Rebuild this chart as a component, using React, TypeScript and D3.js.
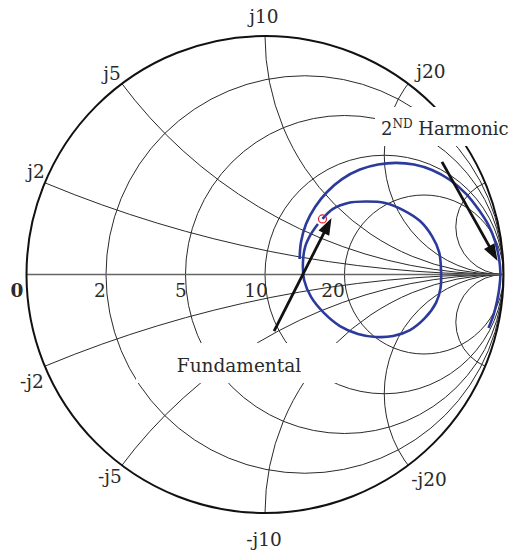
import React from "react";
import * as d3 from "d3";

// Smith chart grid (normalised to Z0 = 10 ohm)
const resistanceValues = [0.2, 0.5, 1, 2];
const reactanceValues = [0.2, 0.5, 1, 2, 5];
const resistanceTickValues = [0, 0.2, 0.5, 1, 2];
const resistanceTickLabels = ["0", "2", "5", "10", "20"];
const reactanceTickLabels = ["j2", "j5", "j10", "j20"];
const negReactanceTickLabels = ["-j2", "-j5", "-j10", "-j20"];

// Fundamental load-pull locus (reflection coefficient, re / im)
const fundamentalRe = [0.241, 0.285, 0.348, 0.423, 0.503, 0.579, 0.65, 0.7, 0.73, 0.738, 0.736, 0.717, 0.671, 0.608, 0.537, 0.465, 0.39, 0.314, 0.247, 0.193, 0.164, 0.159, 0.168, 0.193, 0.222];
const fundamentalIm = [0.233, 0.275, 0.3, 0.306, 0.3, 0.27, 0.224, 0.161, 0.094, 0.019, -0.057, -0.119, -0.182, -0.233, -0.258, -0.262, -0.249, -0.216, -0.161, -0.094, -0.023, 0.048, 0.115, 0.17, 0.212];

// 2nd harmonic locus
const harmonicRe = [0.145, 0.151, 0.172, 0.21, 0.26, 0.323, 0.398, 0.474, 0.549, 0.625, 0.7, 0.776, 0.843, 0.897, 0.939, 0.966, 0.981, 0.987, 0.983, 0.973, 0.958, 0.937];
const harmonicIm = [0.065, 0.136, 0.212, 0.283, 0.346, 0.4, 0.44, 0.461, 0.468, 0.461, 0.438, 0.396, 0.338, 0.27, 0.203, 0.136, 0.069, 0.006, -0.052, -0.111, -0.17, -0.224];

// Annotation arrows [start, end] in reflection coefficient
const fundamentalArrow = [[0.038, -0.237], [0.279, 0.237]];
const harmonicArrow = [[0.742, 0.472], [0.975, 0.057]];

const W = 512;
const H = 552;
const CX = 265;
const CY = 274.5;
const RAD = 238.5;
const FONT = "'DejaVu Serif', 'Liberation Serif', serif";

// text layout (centre x, baseline y)
const reactanceLabelPos = [[36, 178], [112, 80], [264, 23], [431, 78]];
const negReactanceLabelPos = [[32, 388], [110, 483], [264, 546], [429, 486]];
const resistanceLabelPos = [[17, 297], [100, 297], [181, 297], [256, 297], [333, 297]];

export default function App() {
  const sx = d3.scaleLinear().domain([-1, 1]).range([CX - RAD, CX + RAD]);
  const sy = d3.scaleLinear().domain([-1, 1]).range([CY + RAD, CY - RAD]);
  const pr = (v: number) => sx(v) - sx(0);

  const line = d3
    .line<number[]>()
    .x((d) => sx(d[0]))
    .y((d) => sy(d[1]))
    .curve(d3.curveCatmullRom.alpha(0.5));

  const fund = fundamentalRe.map((r, i) => [r, fundamentalIm[i]]);
  const harm = harmonicRe.map((r, i) => [r, harmonicIm[i]]);

  const arrow = (a: number[][], key: string) => {
    const x1 = sx(a[0][0]), y1 = sy(a[0][1]);
    const x2 = sx(a[1][0]), y2 = sy(a[1][1]);
    const dx = x2 - x1, dy = y2 - y1;
    const len = Math.hypot(dx, dy);
    const ux = dx / len, uy = dy / len;
    const hl = 17, hw = 6;
    const bx = x2 - ux * hl, by = y2 - uy * hl;
    const pts = [
      [x2, y2],
      [bx - uy * hw, by + ux * hw],
      [bx + uy * hw, by - ux * hw],
    ];
    return (
      <g key={key}>
        <line x1={x1} y1={y1} x2={bx + ux * 2} y2={by + uy * 2} stroke="#111" strokeWidth={2.8} />
        <polygon points={pts.map((p) => p.join(",")).join(" ")} fill="#111" />
      </g>
    );
  };

  return (
    <svg
      width={W}
      height={H}
      viewBox={`0 0 ${W} ${H}`}
      style={{ position: "absolute", left: 0, top: 0, background: "#fff" }}
    >
      <defs>
        <clipPath id="unit">
          <circle cx={sx(0)} cy={sy(0)} r={pr(1)} />
        </clipPath>
      </defs>
      <rect x={0} y={0} width={W} height={H} fill="#fff" />
      <g clipPath="url(#unit)" fill="none" stroke="#2a2a2a" strokeWidth={1}>
        {resistanceValues.map((r) => (
          <circle key={"r" + r} cx={sx(r / (1 + r))} cy={sy(0)} r={pr(1 / (1 + r))} />
        ))}
        {reactanceValues.map((x) => (
          <g key={"x" + x}>
            <circle cx={sx(1)} cy={sy(1 / x)} r={pr(1 / x)} />
            <circle cx={sx(1)} cy={sy(-1 / x)} r={pr(1 / x)} />
          </g>
        ))}
      </g>
      <line x1={sx(-1)} y1={sy(0)} x2={sx(1)} y2={sy(0)} stroke="#666" strokeWidth={1.4} />
      <circle cx={sx(0)} cy={sy(0)} r={pr(1)} fill="none" stroke="#111" strokeWidth={2} />

      {/* white label backgrounds */}
      <rect x={136} y={343} width={206} height={40} fill="#fff" />
      <rect x={375} y={107} width={137} height={39} fill="#fff" />

      <g fontFamily={FONT} fontSize={18.5} fill="#2a2a2a" textAnchor="middle">
        {reactanceTickLabels.map((t, i) => (
          <text key={t} x={reactanceLabelPos[i][0]} y={reactanceLabelPos[i][1]}>{t}</text>
        ))}
        {negReactanceTickLabels.map((t, i) => (
          <text key={t} x={negReactanceLabelPos[i][0]} y={negReactanceLabelPos[i][1]}>{t}</text>
        ))}
        {resistanceTickLabels.map((t, i) => (
          <text
            key={"rl" + t}
            x={resistanceLabelPos[i][0]}
            y={resistanceLabelPos[i][1]}
            fontWeight={resistanceTickValues[i] === 0 ? "bold" : "normal"}
          >
            {t}
          </text>
        ))}
        <text x={239} y={372}>Fundamental</text>
        <text x={381} y={135} textAnchor="start" fontSize={18}>
          2<tspan fontSize={12} dy={-7}>ND</tspan>
          <tspan dy={7}> Harmonic</tspan>
        </text>
      </g>

      <path d={line(fund) || ""} fill="none" stroke="#2b3a9b" strokeWidth={2.6} />
      <path d={line(harm) || ""} fill="none" stroke="#2b3a9b" strokeWidth={2.6} />
      <circle cx={sx(fundamentalRe[0])} cy={sy(fundamentalIm[0])} r={4} fill="none" stroke="#e0202a" strokeWidth={1.2} />

      {arrow(fundamentalArrow, "fa")}
      {arrow(harmonicArrow, "ha")}
    </svg>
  );
}
